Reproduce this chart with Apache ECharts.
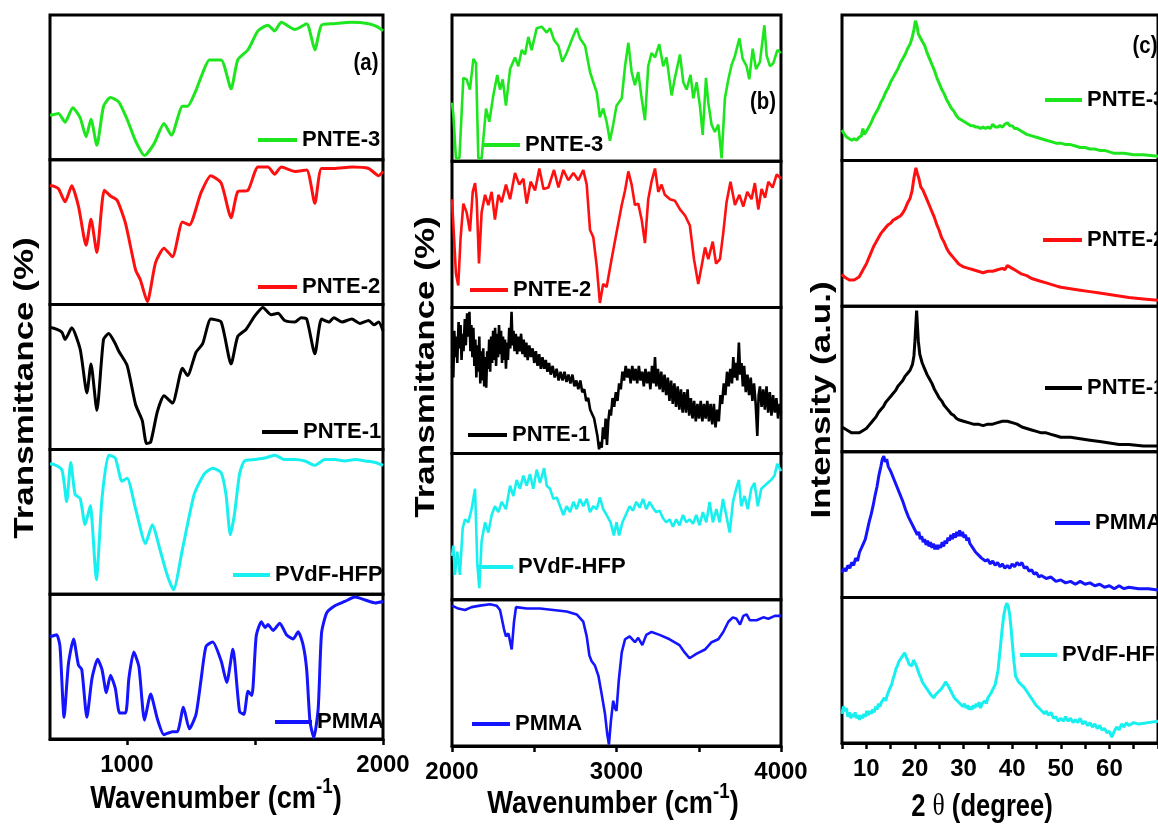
<!DOCTYPE html>
<html>
<head>
<meta charset="utf-8">
<script src="https://cdn.jsdelivr.net/npm/echarts@6/dist/echarts.min.js"></script>
<style>
html, body { margin: 0; padding: 0; background: #fff; }
#chart { width: 1158px; height: 828px; }
</style>
</head>
<body>
<div id="chart"></div>
<script>
// ---- sample names (top to bottom) ----
const ftirSamples = ['PNTE-3', 'PNTE-2', 'PNTE-1', 'PVdF-HFP', 'PMMA'];
const xrdSamples = ['PNTE-3', 'PNTE-2', 'PNTE-1', 'PMMA', 'PVdF-HFP'];

// ---- axis ticks and labels ----
const ticksLow = [1000, 1500, 2000];
const labelsLow = [1000, 2000];
const ticksHigh = [2000, 2500, 3000, 3500, 4000];
const labelsHigh = [2000, 3000, 4000];
const ticksXrd = [5, 10, 15, 20, 25, 30, 35, 40, 45, 50, 55, 60, 65, 70];
const labelsXrd = [10, 20, 30, 40, 50, 60];

// ---- FTIR 700-2000 cm-1 (relative transmittance, 0-100 within each strip) ----
const lowPNTE3 = [[700,31],[707,31],[733,32],[759,26],[789,36],[818,29],[841,16],[860,28],[883,10],[909,37],[936,43],[968,40],[1001,28],[1034,13],[1069,3],[1106,11],[1145,25],[1174,17],[1217,37],[1237,37],[1270,48],[1296,60],[1322,69],[1368,69],[1407,49],[1433,69],[1473,76],[1512,89],[1551,93],[1577,89],[1603,95],[1656,90],[1702,94],[1734,76],[1760,93],[1808,94],[1878,95],[1944,94],[1977,92],[2000,89]];
const lowPNTE2 = [[700,82],[707,82],[733,80],[759,71],[785,82],[811,68],[841,41],[860,59],[883,36],[912,79],[936,75],[962,72],[995,56],[1034,24],[1053,17],[1080,2],[1112,29],[1145,39],[1178,33],[1217,57],[1244,55],[1289,77],[1328,89],[1368,84],[1407,60],[1433,78],[1473,79],[1512,95],[1551,95],[1577,90],[1603,95],[1656,92],[1702,93],[1734,70],[1760,94],[1808,94],[1878,95],[1944,94],[1983,89],[2000,92]];
const lowPNTE1 = [[700,84],[707,84],[746,81],[759,76],[785,84],[818,69],[844,39],[860,59],[883,27],[909,76],[929,80],[955,73],[968,68],[1001,58],[1034,31],[1060,20],[1077,4],[1093,5],[1119,26],[1145,37],[1178,32],[1217,56],[1237,51],[1270,67],[1296,73],[1328,90],[1368,88],[1407,59],[1433,78],[1466,83],[1499,92],[1531,98],[1564,93],[1590,94],[1616,89],[1656,88],[1680,91],[1702,90],[1734,66],[1760,90],[1790,88],[1808,91],[1840,88],[1878,90],[1910,87],[1944,89],[1965,86],[1983,88],[2000,82]];
const lowPVDF = [[700,90],[707,90],[746,86],[765,64],[781,91],[798,69],[818,66],[837,48],[857,61],[881,10],[903,66],[929,96],[955,94],[981,78],[1001,80],[1034,59],[1073,35],[1099,48],[1132,29],[1158,13],[1182,3],[1217,31],[1263,69],[1302,83],[1335,87],[1368,84],[1387,69],[1404,41],[1420,55],[1440,83],[1459,92],[1499,93],[1538,94],[1577,96],[1616,93],[1656,93],[1695,92],[1734,89],[1773,93],[1812,93],[1851,92],[1891,93],[1930,92],[1970,91],[2000,89]];
const lowPMMA = [[700,71],[707,71],[726,72],[739,64],[755,15],[772,52],[792,69],[811,51],[824,48],[844,15],[864,42],[886,55],[903,48],[920,32],[936,44],[955,35],[972,18],[995,18],[1008,42],[1027,60],[1047,50],[1069,13],[1093,31],[1119,14],[1145,3],[1178,5],[1197,5],[1221,22],[1244,7],[1270,17],[1289,40],[1309,64],[1335,67],[1368,54],[1390,39],[1414,62],[1440,19],[1457,17],[1473,33],[1488,30],[1505,71],[1525,81],[1540,77],[1551,79],[1571,75],[1597,80],[1623,72],[1649,69],[1669,74],[1688,65],[1702,48],[1715,12],[1730,1],[1747,21],[1760,73],[1780,87],[1812,92],[1851,95],[1891,98],[1930,96],[1970,94],[2000,95]];

// ---- FTIR 2000-4000 cm-1 ----
const highPNTE3 = [[2000,40],[2008,32],[2024,2],[2045,2],[2069,57],[2089,56],[2109,49],[2130,70],[2146,67],[2160,2],[2180,2],[2207,36],[2227,27],[2251,45],[2275,59],[2292,49],[2308,56],[2328,38],[2353,63],[2383,71],[2403,65],[2424,76],[2444,73],[2464,85],[2484,76],[2515,91],[2545,92],[2576,88],[2596,91],[2620,83],[2647,79],[2671,68],[2697,74],[2728,83],[2758,91],[2778,84],[2809,79],[2839,61],[2859,54],[2880,47],[2899,30],[2919,36],[2940,27],[2960,14],[2980,25],[3000,38],[3032,43],[3052,65],[3072,81],[3092,61],[3112,52],[3132,61],[3153,43],[3173,28],[3193,65],[3213,74],[3234,71],[3260,80],[3284,65],[3304,71],[3335,45],[3355,57],[3386,73],[3406,54],[3426,49],[3450,59],[3467,43],[3487,54],[3507,38],[3524,18],[3544,57],[3558,40],[3578,25],[3598,20],[3619,25],[3639,2],[3659,43],[3680,56],[3700,66],[3720,72],[3747,84],[3767,70],[3791,65],[3807,56],[3828,77],[3848,63],[3872,68],[3899,93],[3913,72],[3933,65],[3953,67],[3978,76],[4000,74]];
const highPNTE2 = [[2000,74],[2008,74],[2024,23],[2038,15],[2052,47],[2069,71],[2089,65],[2109,52],[2126,79],[2140,85],[2150,74],[2164,30],[2180,65],[2201,77],[2221,70],[2241,79],[2261,60],[2282,77],[2302,72],[2328,84],[2353,74],[2383,92],[2409,84],[2434,88],[2454,71],[2478,86],[2505,80],[2531,95],[2556,81],[2586,82],[2620,94],[2647,82],[2677,94],[2707,87],[2738,92],[2768,87],[2798,94],[2819,84],[2839,53],[2859,48],[2880,28],[2899,3],[2919,16],[2940,14],[2970,33],[3000,51],[3032,70],[3052,80],[3072,93],[3092,84],[3112,70],[3132,71],[3153,60],[3173,44],[3193,74],[3213,86],[3234,95],[3254,79],[3274,84],[3294,77],[3325,74],[3355,73],[3386,67],[3416,63],[3446,56],[3471,33],[3497,16],[3517,28],[3538,41],[3558,33],[3585,45],[3605,30],[3629,33],[3649,51],[3669,72],[3693,86],[3720,70],[3747,77],[3771,69],[3795,79],[3821,74],[3841,85],[3862,67],[3882,81],[3903,75],[3923,86],[3949,82],[3974,91],[4000,88]];
const highPNTE1 = [[2000,60],[2008,52],[2014,84],[2020,66],[2026,80],[2032,62],[2040,90],[2046,72],[2052,88],[2058,64],[2064,82],[2070,70],[2078,92],[2084,74],[2092,96],[2099,80],[2106,97],[2112,70],[2118,88],[2124,66],[2130,86],[2136,60],[2142,78],[2148,52],[2154,74],[2160,56],[2166,80],[2172,48],[2178,70],[2184,50],[2190,72],[2196,46],[2202,66],[2208,45],[2214,70],[2220,58],[2226,78],[2232,56],[2238,80],[2244,62],[2250,84],[2256,64],[2262,86],[2268,60],[2274,82],[2280,66],[2286,88],[2292,68],[2298,84],[2304,62],[2310,80],[2316,64],[2322,78],[2328,58],[2334,76],[2340,64],[2348,86],[2354,72],[2362,97],[2368,74],[2374,84],[2380,70],[2388,82],[2396,68],[2404,80],[2412,70],[2420,82],[2428,68],[2436,78],[2444,66],[2452,76],[2460,64],[2470,74],[2480,66],[2490,72],[2500,62],[2510,70],[2520,60],[2530,68],[2540,58],[2550,66],[2560,58],[2570,64],[2580,56],[2590,62],[2600,54],[2612,60],[2624,52],[2636,58],[2648,50],[2660,56],[2672,50],[2684,56],[2696,49],[2708,54],[2720,48],[2732,54],[2744,46],[2756,50],[2768,44],[2780,50],[2792,42],[2804,44],[2816,36],[2828,38],[2840,30],[2852,30],[2864,24],[2874,18],[2884,12],[2894,3],[2902,8],[2910,4],[2918,18],[2926,10],[2934,24],[2942,6],[2950,22],[2958,30],[2966,26],[2976,38],[2986,32],[2996,42],[3006,36],[3016,48],[3026,44],[3036,56],[3046,50],[3056,60],[3066,52],[3076,58],[3086,48],[3096,60],[3106,50],[3116,58],[3126,48],[3136,60],[3146,50],[3156,56],[3166,46],[3176,58],[3186,48],[3196,56],[3206,44],[3216,60],[3226,48],[3234,66],[3242,46],[3252,58],[3262,44],[3272,56],[3282,42],[3292,54],[3302,40],[3312,52],[3322,36],[3332,50],[3342,34],[3352,48],[3362,32],[3372,46],[3382,30],[3392,44],[3402,28],[3412,42],[3422,28],[3432,44],[3442,26],[3452,38],[3462,24],[3472,36],[3482,22],[3492,34],[3502,24],[3512,36],[3522,22],[3532,34],[3542,24],[3552,36],[3562,22],[3572,34],[3582,20],[3592,34],[3602,18],[3612,30],[3622,22],[3632,40],[3642,34],[3652,48],[3662,40],[3672,56],[3682,46],[3692,58],[3702,48],[3710,66],[3718,52],[3726,62],[3734,50],[3744,76],[3752,54],[3760,62],[3768,46],[3776,60],[3786,42],[3796,54],[3806,40],[3816,52],[3826,36],[3836,48],[3846,34],[3856,12],[3864,40],[3872,46],[3882,32],[3892,44],[3902,30],[3912,46],[3922,28],[3932,42],[3942,26],[3952,40],[3962,28],[3972,38],[3982,24],[3992,34],[4000,28]];
const highPVDF = [[2000,30],[2008,37],[2018,17],[2032,33],[2048,17],[2065,49],[2079,55],[2099,53],[2119,62],[2140,76],[2154,24],[2166,8],[2180,40],[2201,53],[2221,46],[2241,58],[2261,64],[2282,60],[2302,67],[2328,62],[2353,78],[2373,71],[2393,82],[2413,76],[2434,85],[2454,78],[2474,86],[2494,76],[2515,89],[2535,80],[2560,90],[2576,78],[2596,76],[2616,69],[2637,70],[2657,64],[2677,58],[2697,64],[2718,60],[2738,67],[2758,62],[2778,69],[2798,64],[2819,69],[2839,60],[2859,64],[2880,62],[2899,70],[2919,62],[2940,58],[2964,53],[2984,44],[3000,53],[3016,44],[3036,53],[3056,58],[3080,64],[3100,61],[3121,67],[3141,63],[3161,69],[3181,62],[3201,67],[3221,63],[3242,60],[3262,61],[3282,56],[3302,53],[3323,55],[3343,50],[3363,55],[3383,51],[3404,58],[3424,53],[3444,55],[3465,52],[3485,58],[3505,51],[3525,60],[3546,53],[3566,67],[3586,53],[3607,62],[3627,53],[3647,69],[3667,58],[3688,46],[3708,67],[3728,76],[3744,82],[3758,64],[3778,71],[3798,62],[3819,76],[3839,80],[3859,64],[3880,76],[3900,78],[3920,80],[3940,82],[3961,85],[3977,93],[4000,88]];
const highPMMA = [[2000,96],[2008,96],[2038,94],[2079,93],[2119,95],[2170,96],[2231,97],[2271,96],[2292,93],[2316,80],[2328,75],[2343,77],[2363,66],[2377,85],[2389,95],[2454,94],[2535,94],[2616,93],[2697,92],[2758,90],[2798,85],[2819,75],[2835,62],[2849,58],[2869,55],[2890,48],[2909,36],[2930,22],[2944,8],[2954,1],[2966,17],[2980,31],[2990,26],[3000,24],[3014,45],[3032,64],[3052,73],[3080,75],[3112,71],[3132,74],[3157,69],[3181,76],[3213,78],[3262,76],[3323,73],[3383,69],[3414,64],[3444,60],[3485,63],[3538,66],[3578,71],[3619,73],[3649,78],[3680,85],[3707,88],[3730,87],[3751,83],[3771,89],[3791,90],[3811,86],[3852,86],[3892,88],[3923,87],[3963,89],[4000,89]];

// ---- XRD, 2 theta 5-70 degree (relative intensity) ----
const xrdPNTE3 = [[5,21],[5.5,18],[6,16],[6.5,15],[7,14],[7.5,15],[8,14],[8.5,16],[9,17],[9.3,22],[9.6,18],[10,20],[10.5,23],[11,26],[11.5,30],[12,33],[12.5,36],[13,40],[13.5,43],[14,47],[14.5,50],[15,54],[15.5,57],[16,60],[16.5,63],[17,67],[17.5,70],[18,73],[18.5,77],[19,80],[19.4,84],[19.8,90],[20.1,96],[20.4,93],[20.7,87],[21,86],[21.5,82],[22,79],[22.5,74],[23,70],[23.5,66],[24,62],[24.5,57],[25,53],[25.5,49],[26,46],[26.5,42],[27,39],[27.5,36],[28,34],[28.5,31],[29,29],[29.5,28],[30,27],[30.5,26],[31,25],[31.5,24],[32,24],[32.5,23],[33,23],[33.5,22],[34,23],[34.5,22],[35,23],[35.5,22],[36,25],[36.5,23],[37,23],[37.5,24],[38,23],[38.5,25],[39,26],[39.5,24],[40,24],[40.5,22],[41,22],[42,20],[43,18],[44,17],[45,16],[46,15],[47,14],[48,13],[49,12],[50,12],[51,11],[52,11],[53,10],[54,9],[55,9],[56,8],[57,8],[58,7],[59,7],[60,6],[61,5],[62,5],[63,5],[65,4],[67,4],[70,3]];
const xrdPNTE2 = [[5,22],[5.5,20],[6,19],[6.5,18],[7,18],[7.5,18],[8,19],[8.5,20],[9,23],[9.5,26],[10,29],[10.5,33],[11,37],[11.5,41],[12,44],[12.5,47],[13,50],[13.5,52],[14,54],[14.5,56],[15,57],[15.5,59],[16,60],[16.5,61],[17,62],[17.5,64],[18,67],[18.5,71],[19,74],[19.4,79],[19.8,88],[20.2,95],[20.5,91],[20.8,88],[21.2,82],[21.6,80],[22,77],[22.5,73],[23,69],[23.5,65],[24,61],[24.5,56],[25,52],[25.5,47],[26,44],[26.5,40],[27,37],[27.5,35],[28,33],[28.5,31],[29,29],[29.5,28],[30,27],[31,26],[32,25],[33,24],[34,23],[35,24],[36,24],[37,25],[38,26],[38.5,25],[39,28],[39.5,27],[40,26],[40.5,25],[41,24],[42,22],[43,21],[44,19],[45,18],[46,17],[47,16],[48,15],[49,14],[50,13],[52,12],[54,11],[56,10],[58,9],[60,8],[62,7],[64,6],[67,5],[70,4]];
const xrdPNTE1 = [[5,17],[5.5,16],[6,15],[6.5,14],[7,13],[7.5,13],[8,13],[8.5,13],[9,14],[9.5,15],[10,16],[10.5,18],[11,20],[11.5,22],[12,24],[12.5,27],[13,29],[13.5,31],[14,34],[14.5,36],[15,38],[15.5,40],[16,42],[16.5,45],[17,47],[17.5,49],[18,52],[18.5,54],[19,56],[19.5,60],[19.8,66],[20,76],[20.2,88],[20.35,97],[20.5,88],[20.7,76],[21,67],[21.5,61],[22,57],[22.5,53],[23,50],[23.5,47],[24,43],[24.5,40],[25,37],[25.5,35],[26,32],[26.5,30],[27,28],[27.5,26],[28,25],[28.5,23],[29,22],[30,21],[31,20],[32,19],[33,19],[34,18],[35,19],[36,19],[37,20],[38,21],[39,21],[40,20],[41,19],[42,17],[43,16],[44,15],[45,14],[46,13],[47,13],[48,12],[49,11],[50,10],[52,10],[54,9],[56,8],[58,7],[60,6],[62,5],[64,5],[67,4],[70,4]];
const xrdPMMA = [[5,17],[5.4,20],[5.8,18],[6.2,22],[6.6,20],[7,24],[7.4,22],[7.8,27],[8.2,25],[8.6,31],[9,30],[9.4,37],[9.8,40],[10.2,46],[10.6,52],[11,57],[11.4,63],[11.8,70],[12.2,76],[12.6,84],[13,90],[13.3,95],[13.6,97],[13.9,93],[14.2,95],[14.5,90],[14.8,91],[15.1,86],[15.4,87],[15.7,81],[16,82],[16.3,76],[16.6,77],[16.9,71],[17.2,72],[17.5,66],[17.8,65],[18.1,60],[18.4,61],[18.7,55],[19,56],[19.3,51],[19.6,52],[19.9,47],[20.2,48],[20.5,43],[20.8,45],[21.1,40],[21.4,42],[21.7,38],[22,40],[22.3,36],[22.6,39],[22.9,35],[23.2,38],[23.5,34],[23.8,37],[24.1,33],[24.4,36],[24.7,33],[25,36],[25.3,34],[25.6,38],[25.9,35],[26.2,39],[26.5,37],[26.8,41],[27.1,39],[27.4,43],[27.7,40],[28,44],[28.3,41],[28.6,45],[28.9,42],[29.2,46],[29.5,42],[29.8,45],[30.1,41],[30.4,43],[30.7,39],[31,41],[31.3,37],[31.6,38],[31.9,34],[32.2,35],[32.5,31],[32.8,32],[33.1,29],[33.4,30],[33.7,27],[34,28],[34.5,25],[35,26],[35.5,23],[36,25],[36.5,22],[37,24],[37.5,21],[38,23],[38.5,20],[39,22],[39.5,20],[40,23],[40.5,21],[41,24],[41.5,22],[42,24],[42.5,20],[43,21],[43.5,18],[44,19],[44.5,16],[45,17],[45.5,14],[46,15],[47,13],[48,14],[49,11],[50,12],[51,10],[52,11],[53,9],[54,11],[55,9],[56,10],[57,8],[58,9],[59,7],[60,8],[61,6],[62,8],[63,6],[64,7],[66,6],[68,6],[70,5]];
const xrdPVDF = [[5,20],[5.3,25],[5.6,22],[5.9,24],[6.2,18],[6.5,21],[6.8,17],[7.1,20],[7.4,18],[7.7,21],[8,17],[8.3,19],[8.6,16],[8.9,19],[9.2,17],[9.5,20],[9.8,18],[10.1,22],[10.4,19],[10.7,22],[11,20],[11.3,23],[11.6,21],[11.9,25],[12.2,23],[12.5,27],[12.8,25],[13.1,28],[13.4,27],[13.7,31],[14,29],[14.3,33],[14.6,34],[14.9,38],[15.2,40],[15.5,44],[15.8,47],[16.1,51],[16.4,53],[16.7,56],[17,55],[17.3,59],[17.6,58],[17.9,62],[18.2,59],[18.5,57],[18.8,54],[19.1,55],[19.4,53],[19.7,57],[20,58],[20.3,53],[20.6,50],[20.9,47],[21.2,45],[21.5,42],[21.8,43],[22.1,39],[22.4,40],[22.7,36],[23,37],[23.3,33],[23.6,34],[23.9,31],[24.2,33],[24.5,32],[24.8,35],[25.1,34],[25.4,37],[25.7,38],[26,40],[26.3,42],[26.6,41],[26.9,39],[27.2,38],[27.5,35],[27.8,33],[28.1,31],[28.4,32],[28.7,29],[29,30],[29.3,27],[29.6,28],[29.9,25],[30.2,27],[30.5,24],[30.8,26],[31.1,23],[31.4,25],[31.7,23],[32,26],[32.3,24],[32.6,27],[32.9,25],[33.2,28],[33.5,24],[33.8,27],[34.1,26],[34.4,29],[34.7,27],[35,31],[35.3,30],[35.6,34],[35.9,35],[36.2,38],[36.5,40],[36.8,45],[37.1,50],[37.4,60],[37.7,70],[38,80],[38.3,88],[38.6,93],[38.9,96],[39.2,94],[39.5,88],[39.8,78],[40.1,66],[40.4,55],[40.7,46],[41,44],[41.3,42],[41.6,43],[41.9,40],[42.2,41],[42.5,38],[42.8,39],[43.1,35],[43.4,36],[43.7,32],[44,33],[44.3,29],[44.6,30],[44.9,26],[45.2,27],[45.5,24],[45.8,25],[46.1,22],[46.4,23],[46.7,20],[47,22],[47.5,19],[48,21],[48.5,17],[49,18],[49.5,15],[50,17],[50.5,15],[51,18],[51.5,15],[52,17],[52.5,14],[53,16],[53.5,14],[54,17],[54.5,13],[55,15],[55.5,12],[56,14],[56.5,11],[57,13],[57.5,10],[58,12],[58.5,9],[59,10],[59.5,7],[60,8],[60.5,4],[61,8],[61.5,11],[62,9],[62.5,13],[63,11],[63.5,14],[64,12],[65,14],[66,13],[68,14],[70,15]];

// ---- drawing styles ----
const FONT = "'Liberation Sans', Arial, sans-serif";
const NARROW = "'Liberation Sans Narrow', 'Arial Narrow', 'Liberation Sans', Arial, sans-serif";
const colorOf = {
  'PNTE-3': '#1ee61e',
  'PNTE-2': '#ff1010',
  'PNTE-1': '#000000',
  'PVdF-HFP': '#18f0f0',
  'PMMA': '#1414ff'
};

// panel frames and legend placements [iconLeft, centerY, iconWidth]
const panels = [
  {
    left: 50, top: 15, width: 333, height: 724, min: 700, max: 2000,
    ticks: ticksLow, labels: labelsLow, names: ftirSamples,
    curves: [lowPNTE3, lowPNTE2, lowPNTE1, lowPVDF, lowPMMA],
    lineWidth: 3, smooth: 0.2,
    legendAt: [[258, 140, 39], [258, 287, 39], [262, 432, 36], [233, 575, 37], [275, 722, 37]]
  },
  {
    left: 452, top: 15, width: 329, height: 731, min: 2000, max: 4000,
    ticks: ticksHigh, labels: labelsHigh, names: ftirSamples,
    curves: [highPNTE3, highPNTE2, highPNTE1, highPVDF, highPMMA],
    lineWidth: 2.6, smooth: false,
    legendAt: [[482, 145, 38], [470, 290, 38], [468, 435, 39], [477, 567, 36], [472, 724, 38]]
  },
  {
    left: 842, top: 15, width: 353.6, height: 728, min: 5, max: 70,
    ticks: ticksXrd, labels: labelsXrd, names: xrdSamples,
    curves: [xrdPNTE3, xrdPNTE2, xrdPNTE1, xrdPMMA, xrdPVDF],
    lineWidth: 3, smooth: false,
    legendAt: [[1045, 100, 37], [1043, 240, 39], [1045, 388, 37], [1055, 523, 35], [1020, 655, 37]]
  }
];

const grid = [], xAxis = [], yAxis = [], series = [], legend = [];

panels.forEach(function (p) {
  const h = p.height / 5;
  p.names.forEach(function (name, i) {
    const idx = grid.length;
    const bottom = i === 4;
    grid.push({
      left: p.left, top: p.top + i * h, width: p.width, height: h,
      show: true, borderColor: '#000', borderWidth: 3,
      backgroundColor: 'transparent', containLabel: false
    });
    xAxis.push({
      gridIndex: idx, type: 'value', min: p.min, max: p.max,
      splitLine: { show: false },
      axisLine: { show: bottom, onZero: false, lineStyle: { color: '#000', width: 3 } },
      axisTick: bottom
        ? { show: true, inside: false, length: 6, customValues: p.ticks, lineStyle: { color: '#000', width: 2.5 } }
        : { show: false },
      axisLabel: bottom
        ? { show: true, customValues: p.labels, margin: 14, color: '#000', fontSize: 24, fontWeight: 'bold', fontFamily: NARROW,
            formatter: function (v) { return String(v); } }
        : { show: false }
    });
    yAxis.push({
      gridIndex: idx, type: 'value', min: 0, max: 100, show: false,
      splitLine: { show: false }
    });
    series.push({
      type: 'line', name: name, xAxisIndex: idx, yAxisIndex: idx,
      data: p.curves[i], symbol: 'none', showSymbol: false,
      smooth: p.smooth, clip: true,
      lineStyle: { color: colorOf[name], width: p.lineWidth },
      itemStyle: { color: colorOf[name] },
      emphasis: { disabled: true }
    });
    const pos = p.legendAt[i];
    legend.push({
      data: [name], left: pos[0], top: pos[1] - 12, padding: 0,
      icon: 'rect', itemWidth: pos[2], itemHeight: 4, itemGap: 0,
      selectedMode: false,
      textStyle: { color: '#000', fontSize: 22, fontWeight: 'bold', fontFamily: FONT, lineHeight: 24 }
    });
  });
});

// ---- axis titles: pieces laid out side by side, with optional raise ----
const measureCtx = document.createElement('canvas').getContext('2d');
function pieceWidth(p) {
  measureCtx.font = p.font;
  return measureCtx.measureText(p.text).width;
}
function titleGroup(cx, cy, pieces, sx) {
  const widths = pieces.map(pieceWidth);
  const total = widths.reduce(function (a, b) { return a + b; }, 0);
  let x = -total / 2;
  const children = pieces.map(function (p, k) {
    const el = {
      type: 'text', x: x, y: p.dy || 0, silent: true,
      style: { text: p.text, font: p.font, fill: '#000', align: 'left', verticalAlign: 'middle' }
    };
    x += widths[k];
    return el;
  });
  return { type: 'group', x: cx, y: cy, scaleX: sx, silent: true, children: children };
}
const MAIN = "bold 32px 'Liberation Sans', Arial, sans-serif";
const SUP = "bold 22px 'Liberation Sans', Arial, sans-serif";
const THETA = "normal 32px 'Liberation Serif', serif";
const wavenumberPieces = [
  { text: 'Wavenumber (cm', font: MAIN },
  { text: '-1', font: SUP, dy: -12 },
  { text: ')', font: MAIN }
];
const anglePieces = [
  { text: '2 ', font: MAIN },
  { text: 'θ', font: THETA },
  { text: ' (degree)', font: MAIN }
];

function vText(x, y, text, size, sy) {
  return { type: 'text', x: x, y: y, rotation: Math.PI / 2, scaleY: sy, silent: true,
    style: { text: text, fontSize: size, fontWeight: 'bold', fontFamily: FONT, fill: '#000', align: 'center', verticalAlign: 'middle' } };
}
function tag(x, y, text) {
  return { type: 'text', x: x, y: y, scaleX: 0.85, silent: true,
    style: { text: text, fontSize: 24, fontWeight: 'bold', fontFamily: FONT, fill: '#000', align: 'center', verticalAlign: 'middle' } };
}

const graphic = [
  titleGroup(216, 799, wavenumberPieces, 0.85),
  titleGroup(613, 804, wavenumberPieces, 0.85),
  titleGroup(982, 807, anglePieces, 0.8),
  vText(25, 388, 'Transmittance (%)', 35, 0.8),
  vText(426, 367, 'Transmittance (%)', 35, 0.8),
  vText(822, 400, 'Intensity (a.u.)', 35, 0.8),
  tag(366, 63, '(a)'),
  tag(763, 102, '(b)'),
  tag(1145, 46, '(c)')
];

const chart = echarts.init(document.getElementById('chart'), null, { renderer: 'canvas' });
chart.setOption({
  backgroundColor: '#ffffff',
  animation: false,
  grid: grid,
  xAxis: xAxis,
  yAxis: yAxis,
  series: series,
  legend: legend,
  graphic: graphic
});
</script>
</body>
</html>
